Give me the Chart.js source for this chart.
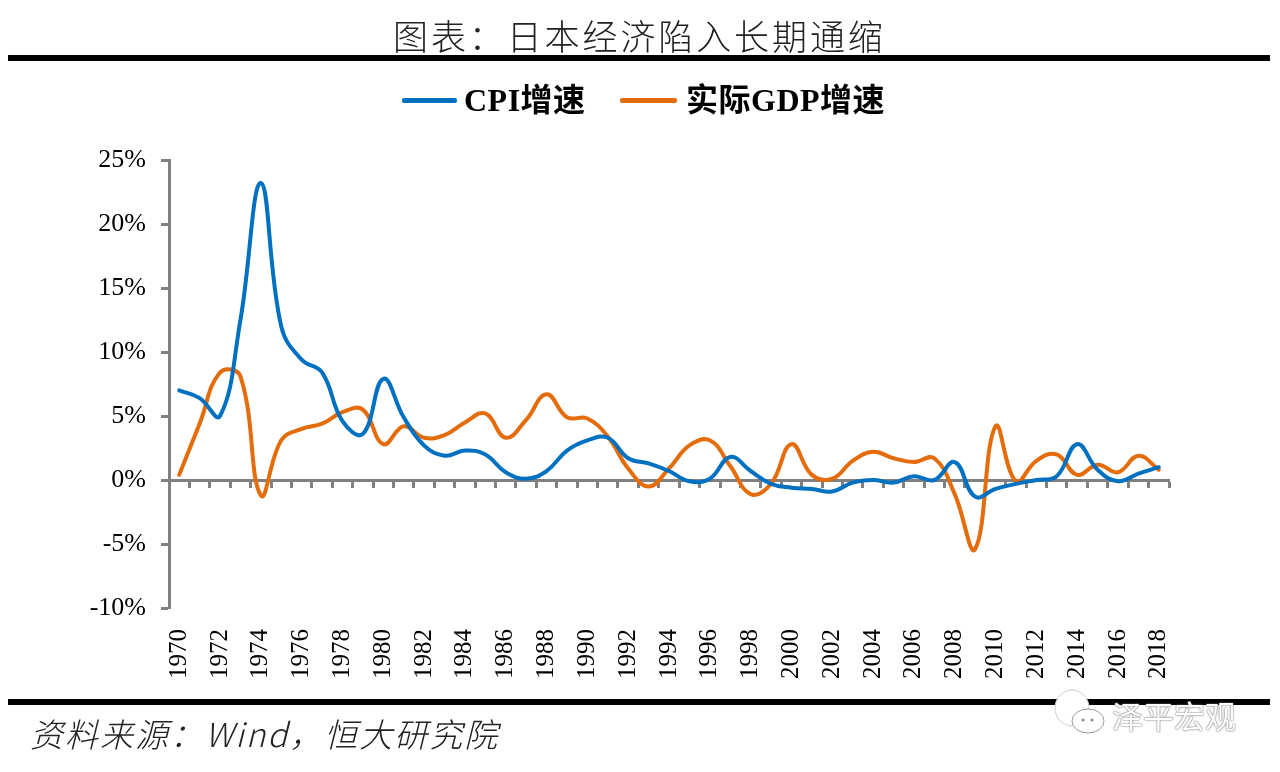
<!DOCTYPE html>
<html lang="zh">
<head>
<meta charset="utf-8">
<title>日本经济陷入长期通缩</title>
<script src="https://cdn.jsdelivr.net/npm/chart.js@4"></script>
<style>
  html, body { margin: 0; padding: 0; background: #fff; }
  #page { position: relative; width: 1280px; height: 772px; overflow: hidden; }
  #chart { position: absolute; left: 0; top: 0; }
  .abs { position: absolute; white-space: nowrap; }
  .rule { position: absolute; left: 8px; width: 1262px; background: #000; }
  #title { left: 393px; top: 10px; font: 300 35px/50px "Noto Sans CJK SC"; letter-spacing: 2.9px; color: #222; }
  #source { left: 30px; top: 708px; font: italic 300 33px/50px "Noto Sans CJK SC"; letter-spacing: 2px; color: #222; }
  .legend-line { position: absolute; height: 5px; border-radius: 2px; top: 98px; }
  .legend-text { top: 78px; font: bold 32px/44px "Liberation Serif", "Noto Sans CJK SC"; letter-spacing: 0.5px; color: #000; }
  #mark { left: 1112px; top: 695px; font: 31px/40px "Noto Sans CJK SC"; color: #fff;
          text-shadow: 0 0 2px #777, 0 0 1px #555; }
</style>
</head>
<body>
<div id="page">
  <canvas id="chart" width="1280" height="772"></canvas>
  <div class="abs" id="title">图表：日本经济陷入长期通缩</div>
  <div class="rule" style="top:55px;height:6px"></div>
  <div class="legend-line" style="left:402px;width:55px;background:#0070c0"></div>
  <div class="abs legend-text" style="left:464px">CPI增速</div>
  <div class="legend-line" style="left:620px;width:57px;background:#e46c0a"></div>
  <div class="abs legend-text" style="left:686px">实际GDP增速</div>
  <div class="rule" style="top:699px;height:6px"></div>
  <div class="abs" id="source">资料来源：Wind，恒大研究院</div>
  <svg class="abs" style="left:1050px;top:688px" width="60" height="50">
    <ellipse cx="22" cy="20" rx="17" ry="18" fill="#fff" stroke="#ccc"/>
    <ellipse cx="38" cy="33" rx="16" ry="12" fill="#fff" stroke="#999"/>
    <circle cx="33" cy="32" r="1.5" fill="#888"/><circle cx="42" cy="32" r="1.5" fill="#888"/>
  </svg>
  <div class="abs" id="mark">泽平宏观</div>
</div>
<script>
// 연도 / 시리즈 값 (그림에서 읽은 값, 단위 %)
const years = ["1970","1971","1972","1973","1974","1975","1976","1977","1978","1979",
  "1980","1981","1982","1983","1984","1985","1986","1987","1988","1989",
  "1990","1991","1992","1993","1994","1995","1996","1997","1998","1999",
  "2000","2001","2002","2003","2004","2005","2006","2007","2008","2009",
  "2010","2011","2012","2013","2014","2015","2016","2017","2018"];
const cpiGrowth = [7.0,6.4,5.0,12.5,23.2,12.0,9.4,8.4,4.6,3.6,
  7.9,4.9,2.7,1.9,2.3,2.0,0.6,0.1,0.7,2.3,
  3.1,3.3,1.7,1.3,0.7,-0.1,0.1,1.8,0.7,-0.3,
  -0.6,-0.7,-0.9,-0.2,0.0,-0.2,0.3,0.0,1.4,-1.3,
  -0.7,-0.3,0.0,0.3,2.8,0.8,-0.1,0.5,1.0];
const gdpGrowth = [0.4,4.4,8.4,8.1,-1.2,3.1,4.0,4.4,5.3,5.5,
  2.8,4.2,3.3,3.5,4.5,5.2,3.3,4.7,6.7,4.9,
  4.8,3.4,0.9,-0.5,0.9,2.7,3.1,1.1,-1.1,-0.3,
  2.8,0.4,0.1,1.5,2.2,1.7,1.4,1.7,-1.1,-5.4,
  4.2,-0.1,1.5,2.0,0.4,1.2,0.6,1.9,0.8];
const yMin = -10;
const yMax = 25;
const yStep = 5;

const AXIS_COLOR = "#808080";
const TICK_FONT = "'Liberation Serif'";

new Chart(document.getElementById("chart"), {
  type: "line",
  data: {
    labels: years,
    datasets: [
      { label: "CPI增速", data: cpiGrowth, borderColor: "#0070c0", xAxisID: "x", yAxisID: "y" },
      { label: "实际GDP增速", data: gdpGrowth, borderColor: "#e46c0a", xAxisID: "x", yAxisID: "y" }
    ]
  },
  options: {
    responsive: false,
    animation: false,
    layout: { padding: { top: 160, right: 111, bottom: 0, left: 0 } },
    elements: {
      point: { radius: 0 },
      line: { borderWidth: 4, tension: 0.42, fill: false, borderCapStyle: "round" }
    },
    plugins: { legend: { display: false }, tooltip: { enabled: false } },
    scales: {
      // 아래쪽 연도 라벨 전용 축
      x: {
        type: "category",
        position: "bottom",
        offset: true,
        border: { display: false },
        grid: { display: false },
        afterFit: s => { s.height = 164; },
        ticks: {
          autoSkip: false,
          minRotation: 90,
          maxRotation: 90,
          padding: 13,
          color: "#000",
          font: { family: TICK_FONT, size: 25 },
          callback: (v, i) => (i % 2 === 0 ? years[i] : "")
        }
      },
      // 0% 위치의 가로축 (눈금만)
      x0: {
        type: "category",
        labels: years,
        position: { y: 0 },
        offset: true,
        border: { color: AXIS_COLOR, width: 3 },
        grid: { offset: true, drawOnChartArea: false, color: AXIS_COLOR, tickColor: AXIS_COLOR, tickWidth: 3, tickLength: 6 },
        ticks: { display: false, autoSkip: false, maxRotation: 0 }
      },
      y: {
        min: yMin,
        max: yMax,
        afterFit: s => { s.width = 169; },
        border: { color: AXIS_COLOR, width: 3 },
        grid: { drawOnChartArea: false, tickColor: AXIS_COLOR, tickWidth: 3, tickLength: 8 },
        ticks: {
          stepSize: yStep,
          padding: 15,
          color: "#000",
          font: { family: TICK_FONT, size: 26 },
          callback: v => `${v}%`
        }
      }
    }
  }
});
</script>
</body>
</html>
